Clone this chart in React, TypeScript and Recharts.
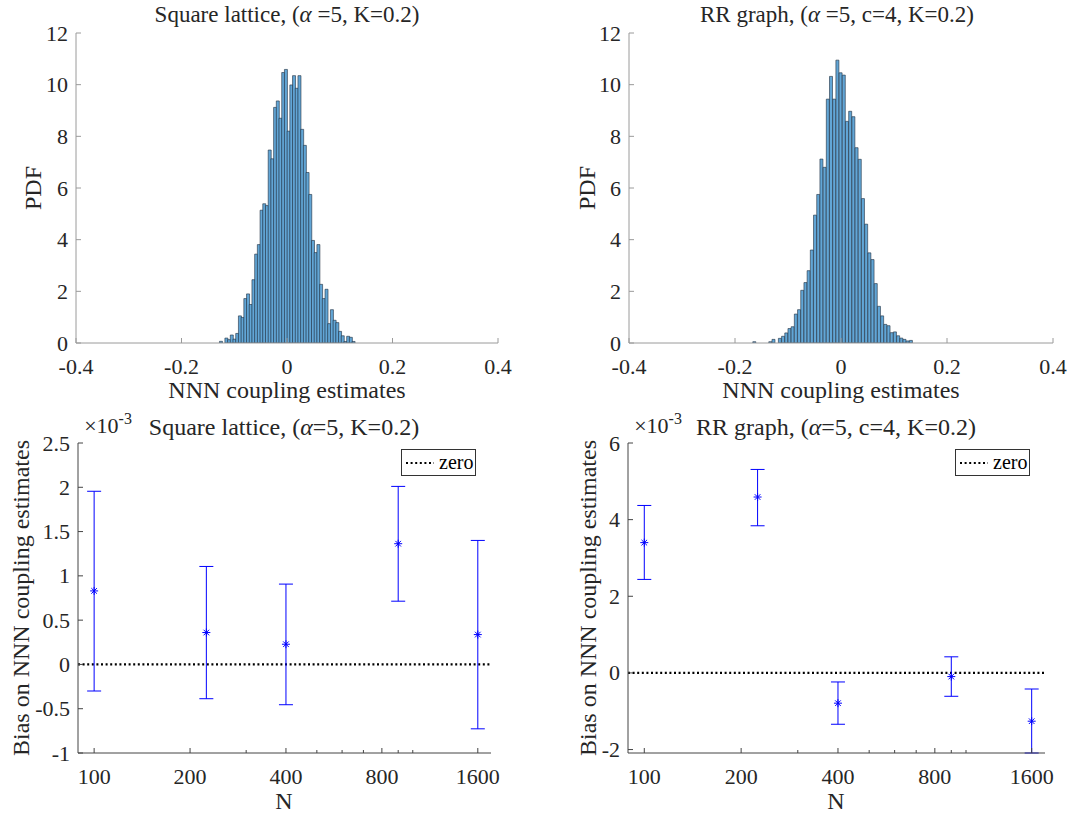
import React from 'react'
import { ComposedChart, Bar, Scatter, ErrorBar, XAxis, YAxis, ReferenceLine } from 'recharts'

// histogram of NNN coupling estimates (PDF), bins
const SQ_BIN_START = -0.128
const SQ_BIN_WIDTH = 0.00513
const SQ_PDF = [
  0.065, 0, 0.19, 0.13, 0.31, 0.15, 0.37, 1.05, 0.99, 1.72,
  1.9, 1.49, 2.45, 3.44, 3.81, 5.14, 5.39, 5.32, 7.47, 7.13,
  9.12, 9.37, 8.7, 10.47, 10.59, 8.2, 9.99, 10.35, 9.86, 10.35,
  8.27, 7.65, 6.6, 5.75, 3.97, 3.5, 3.81, 2.27, 1.72, 2.08,
  0.75, 1.29, 0.88, 0.79, 0.45, 0.28, 0.06, 0.26, 0.22, 0.06,
]

const RR_BIN_START = -0.1664
const RR_BIN_WIDTH = 0.00603
const RR_PDF = [
  0.05, 0, 0, 0, 0, 0.05, 0.14, 0, 0.18, 0.26,
  0.39, 0.56, 0.63, 1.12, 1.29, 2.04, 2.34, 2.8, 3.6, 4.95,
  5.75, 7.12, 6.8, 9.44, 10.32, 9.44, 10.95, 10.46, 10.37, 8.58,
  8.97, 8.76, 7.56, 7.11, 5.59, 4.6, 3.49, 3.23, 2.3, 1.42,
  1.05, 0.72, 0.67, 0.4, 0.43, 0.28, 0.19, 0.14, 0.08, 0.1,
]

// bias vs system size, values in units of 1e-3
const N_VALUES = [100, 225, 400, 900, 1600]
const SQ_BIAS = [0.83, 0.36, 0.228, 1.363, 0.337]
const SQ_LOW = [-0.3, -0.387, -0.455, 0.714, -0.727]
const SQ_HIGH = [1.955, 1.106, 0.907, 2.01, 1.4]
const RR_BIAS = [3.4, 4.59, -0.79, -0.096, -1.26]
const RR_LOW = [2.44, 3.84, -1.34, -0.61, -2.09]
const RR_HIGH = [4.37, 5.31, -0.236, 0.42, -0.42]

const HIST_X_TICKS = [-0.4, -0.2, 0, 0.2, 0.4]
const HIST_Y_TICKS = [0, 2, 4, 6, 8, 10, 12]
const N_TICKS = [100, 200, 300, 400, 500, 600, 700, 800, 900, 1000, 1600]
const N_LABELS = [100, 200, 400, 800, 1600]
const SQ_BIAS_TICKS = [-1, -0.5, 0, 0.5, 1, 1.5, 2, 2.5]
const RR_BIAS_TICKS = [-2, 0, 2, 4, 6]

const FONT = '"Liberation Serif", Tinos, "Times New Roman", Times, "DejaVu Serif", serif'
const TXT = '#262626'
const BLUE = '#0000ff'
const BAR_FILL = '#62a6d6'

const histData = (start: number, w: number, pdf: number[]) =>
  pdf.map((p, i) => ({ x: start + w * (i + 0.5), pdf: p }))

const biasData = (bias: number[], low: number[], high: number[]) =>
  N_VALUES.map((n, i) => ({ n, bias: bias[i], err: [bias[i] - low[i], high[i] - bias[i]] }))

const fmtHist = (v: number) => (v === 0 ? '0' : v.toFixed(1))

const tickText: React.CSSProperties = { fontFamily: FONT, fontSize: 22, fill: TXT }

// MATLAB style ticks: marks point into the axes, labels outside
const bottomTick = (color: string, fmt: (v: number) => string, show: (v: number) => boolean, len: (v: number) => number) =>
  (p: any) => (
    <g>
      <line x1={p.x} x2={p.x} y1={p.y} y2={p.y - len(p.payload.value)} stroke={color} />
      {show(p.payload.value) && (
        <text x={p.x} y={p.y + 23} textAnchor="middle" dominantBaseline="central" fontFamily={FONT} style={tickText}>
          {fmt(p.payload.value)}
        </text>
      )}
    </g>
  )

const topTick = (color: string, len: (v: number) => number) => (p: any) => (
  <line x1={p.x} x2={p.x} y1={p.y} y2={p.y + len(p.payload.value)} stroke={color} />
)

const leftTick = (color: string, fmt: (v: number) => string) => (p: any) => (
  <g>
    <line x1={p.x} x2={p.x + 5} y1={p.y} y2={p.y} stroke={color} />
    <text x={p.x - 8} y={p.y} textAnchor="end" dominantBaseline="central" fontFamily={FONT} style={tickText}>
      {fmt(p.payload.value)}
    </text>
  </g>
)

const rightTick = (color: string) => (p: any) => (
  <line x1={p.x} x2={p.x - 5} y1={p.y} y2={p.y} stroke={color} />
)

const Asterisk = (p: any) => {
  const r = 4
  const d = r * 0.7
  return (
    <g stroke={BLUE} strokeWidth={1}>
      <line x1={p.cx - r} y1={p.cy} x2={p.cx + r} y2={p.cy} />
      <line x1={p.cx} y1={p.cy - r} x2={p.cx} y2={p.cy + r} />
      <line x1={p.cx - d} y1={p.cy - d} x2={p.cx + d} y2={p.cy + d} />
      <line x1={p.cx - d} y1={p.cy + d} x2={p.cx + d} y2={p.cy - d} />
    </g>
  )
}

const textStyle = (x: number, y: number, size: number, rotate = false): React.CSSProperties => ({
  position: 'absolute',
  left: x,
  top: y,
  transform: rotate ? 'translate(-50%, -50%) rotate(-90deg)' : 'translate(-50%, -50%)',
  fontFamily: FONT,
  fontSize: size,
  color: TXT,
  whiteSpace: 'nowrap',
  lineHeight: 1,
})

function HistPanel({ left, data, ml, mr }: { left: number; data: { x: number; pdf: number }[]; ml: number; mr: number }) {
  const ax = '#9a9a9a'
  return (
    <div style={{ position: 'absolute', left, top: 0 }}>
      <ComposedChart width={535} height={410} data={data} margin={{ top: 33, right: mr, bottom: 37, left: ml }} barCategoryGap={0} barGap={0}>
        <XAxis dataKey="x" type="number" domain={[-0.4, 0.4]} ticks={HIST_X_TICKS} allowDataOverflow interval={0}
          stroke={ax} tickLine={false} tickSize={0} tickMargin={0} height={30}
          tick={bottomTick(ax, fmtHist, () => true, () => 5)} />
        <XAxis xAxisId="top" orientation="top" type="number" domain={[-0.4, 0.4]} ticks={HIST_X_TICKS} allowDataOverflow interval={0}
          stroke={ax} tickLine={false} tickSize={0} tickMargin={0} height={0} tick={topTick(ax, () => 5)} />
        <YAxis type="number" domain={[0, 12]} ticks={HIST_Y_TICKS} allowDataOverflow interval={0} width={40}
          stroke={ax} tickLine={false} tickSize={0} tickMargin={0} tick={leftTick(ax, String)} />
        <YAxis yAxisId="right" orientation="right" type="number" domain={[0, 12]} ticks={HIST_Y_TICKS} allowDataOverflow interval={0} width={0}
          stroke={ax} tickLine={false} tickSize={0} tickMargin={0} tick={rightTick(ax)} />
        <Bar dataKey="pdf" fill={BAR_FILL} stroke="#1e2e3e" strokeWidth={0.6} isAnimationActive={false} />
      </ComposedChart>
    </div>
  )
}

function BiasPanel({ left, data, domain, ticks, ml, mr }: {
  left: number
  data: { n: number; bias: number; err: number[] }[]
  domain: [number, number]
  ticks: number[]
  ml: number
  mr: number
}) {
  const ax = '#444444'
  const major = (v: number) => N_LABELS.includes(v)
  const len = (v: number) => (major(v) ? 5 : 3)
  return (
    <div style={{ position: 'absolute', left, top: 410 }}>
      <ComposedChart width={535} height={408} data={data} margin={{ top: 33, right: mr, bottom: 35, left: ml }}>
        <XAxis dataKey="n" type="number" scale="log" domain={[89, 1760]} ticks={N_TICKS} allowDataOverflow interval={0}
          stroke={ax} tickLine={false} tickSize={0} tickMargin={0} height={30}
          tick={bottomTick(ax, String, major, len)} />
        <XAxis xAxisId="top" orientation="top" type="number" scale="log" domain={[89, 1760]} ticks={N_TICKS} allowDataOverflow interval={0}
          stroke={ax} tickLine={false} tickSize={0} tickMargin={0} height={0} tick={topTick(ax, len)} />
        <YAxis type="number" domain={domain} ticks={ticks} allowDataOverflow interval={0} width={40}
          stroke={ax} tickLine={false} tickSize={0} tickMargin={0} tick={leftTick(ax, String)} />
        <YAxis yAxisId="right" orientation="right" type="number" domain={domain} ticks={ticks} allowDataOverflow interval={0} width={0}
          stroke={ax} tickLine={false} tickSize={0} tickMargin={0} tick={rightTick(ax)} />
        <ReferenceLine y={0} stroke="#000" strokeWidth={2.2} strokeDasharray="2 2.6" />
        <Scatter dataKey="bias" shape={Asterisk} isAnimationActive={false}>
          <ErrorBar dataKey="err" direction="y" width={7} stroke={BLUE} strokeWidth={1} />
        </Scatter>
      </ComposedChart>
    </div>
  )
}

function LegendBox({ x }: { x: number }) {
  return (
    <div style={{ position: 'absolute', left: x, top: 449, width: 75, height: 27, boxSizing: 'border-box', border: '1px solid #333', background: '#fff', display: 'flex', alignItems: 'center' }}>
      <svg width={30} height={6} style={{ marginLeft: 3 }}>
        <line x1={1} x2={29} y1={3} y2={3} stroke="#000" strokeWidth={2.2} strokeDasharray="2 2.6" />
      </svg>
      <span style={{ fontFamily: FONT, fontSize: 20, color: '#000', marginLeft: 4 }}>zero</span>
    </div>
  )
}

const Alpha = () => <i>α</i>

export default function App() {
  const sqHist = histData(SQ_BIN_START, SQ_BIN_WIDTH, SQ_PDF)
  const rrHist = histData(RR_BIN_START, RR_BIN_WIDTH, RR_PDF)
  const sqBias = biasData(SQ_BIAS, SQ_LOW, SQ_HIGH)
  const rrBias = biasData(RR_BIAS, RR_LOW, RR_HIGH)
  return (
    <div style={{ position: 'absolute', left: 0, top: 0, width: 1070, height: 818, background: '#fff', overflow: 'hidden' }}>
      <HistPanel left={0} data={sqHist} ml={36} mr={37} />
      <HistPanel left={535} data={rrHist} ml={54} mr={17} />
      <BiasPanel left={0} data={sqBias} domain={[-1, 2.5]} ticks={SQ_BIAS_TICKS} ml={38} mr={44} />
      <BiasPanel left={535} data={rrBias} domain={[-2.09, 6]} ticks={RR_BIAS_TICKS} ml={53} mr={25} />

      <div style={textStyle(287, 14, 23)}>Square lattice, (<Alpha /> =5, K=0.2)</div>
      <div style={textStyle(837, 14, 23)}>RR graph, (<Alpha /> =5, c=4, K=0.2)</div>
      <div style={textStyle(33, 188, 24, true)}>PDF</div>
      <div style={textStyle(587, 188, 24, true)}>PDF</div>
      <div style={textStyle(287, 390, 24)}>NNN coupling estimates</div>
      <div style={textStyle(841, 390, 24)}>NNN coupling estimates</div>

      <div style={textStyle(108, 424, 22)}>×10<sup style={{ fontSize: 16 }}>-3</sup></div>
      <div style={textStyle(284, 427, 24)}>Square lattice, (<Alpha />=5, K=0.2)</div>
      <div style={textStyle(658, 424, 22)}>×10<sup style={{ fontSize: 16 }}>-3</sup></div>
      <div style={textStyle(836, 427, 24)}>RR graph, (<Alpha />=5, c=4, K=0.2)</div>
      <div style={textStyle(21, 598, 24, true)}>Bias on NNN coupling estimates</div>
      <div style={textStyle(588, 598, 24, true)}>Bias on NNN coupling estimates</div>
      <div style={textStyle(284, 801, 24)}>N</div>
      <div style={textStyle(836, 801, 24)}>N</div>

      <LegendBox x={401} />
      <LegendBox x={955} />
    </div>
  )
}
